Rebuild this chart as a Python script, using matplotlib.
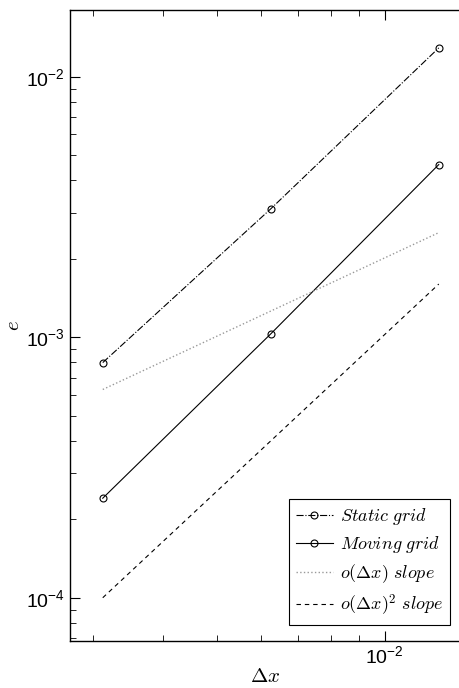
import matplotlib
matplotlib.use("Agg")
import matplotlib.pyplot as plt
from matplotlib.font_manager import FontProperties
from matplotlib.ticker import NullFormatter

plt.rcParams['font.family'] = ['Liberation Sans', 'DejaVu Sans']
plt.rcParams['mathtext.fontset'] = 'custom'
plt.rcParams['mathtext.rm'] = 'Liberation Sans'
plt.rcParams['mathtext.it'] = 'Liberation Sans:italic'

# grid spacing
dx = [3.125e-3, 6.25e-3, 1.25e-2]

# errors
static_err = [7.99e-4, 3.11e-3, 1.29e-2]
moving_err = [2.41e-4, 1.03e-3, 4.6e-3]

# reference slopes (end points)
dx_ref = [3.125e-3, 1.25e-2]
slope1 = [6.3e-4, 2.52e-3]
slope2 = [1.0e-4, 1.6e-3]

fig = plt.figure(figsize=(4.59, 6.88), dpi=100)
ax = fig.add_axes([70/459, 47.3/688, 391/459, 630.7/688])

ax.loglog(dx, static_err, '-.', color='k', lw=0.8, marker='o', ms=5,
          mfc='none', mew=0.8, label=r'$Static\ grid$')
ax.loglog(dx, moving_err, '-', color='k', lw=0.8, marker='o', ms=5,
          mfc='none', mew=0.8, label=r'$Moving\ grid$')
ax.loglog(dx_ref, slope1, ':', color='#999999', lw=1.0, label=r'$o(\Delta x)\ slope$')
ax.loglog(dx_ref, slope2, color='k', lw=0.8, dashes=(4, 3.5),
          label=r'$o(\Delta x)^2\ slope$')

ax.set_xlim(2.73e-3, 1.37e-2)
ax.set_ylim(6.84e-5, 1.803e-2)
ax.xaxis.set_minor_formatter(NullFormatter())

ax.tick_params(which='both', direction='in', top=True, right=False, labelsize=14)
ax.tick_params(which='major', length=7, width=0.8)
ax.tick_params(which='minor', length=4, width=0.6)
for s in ax.spines.values():
    s.set_linewidth(1.0)

lab = FontProperties(size=15, math_fontfamily='cm')
ax.set_xlabel(r'$\Delta x$', fontproperties=lab, labelpad=0)
ax.set_ylabel(r'$e$', fontproperties=lab, labelpad=2)

leg_font = FontProperties(size=13, math_fontfamily='cm')
leg = ax.legend(loc='lower right', bbox_to_anchor=(380/391, 15.7/630.7),
                borderaxespad=0, prop=leg_font, fancybox=False,
                edgecolor='k', framealpha=1, handlelength=2.0,
                handletextpad=0.4, labelspacing=0.4, borderpad=0.4)
leg.get_frame().set_linewidth(0.8)

fig.savefig('out.png', dpi=100)
